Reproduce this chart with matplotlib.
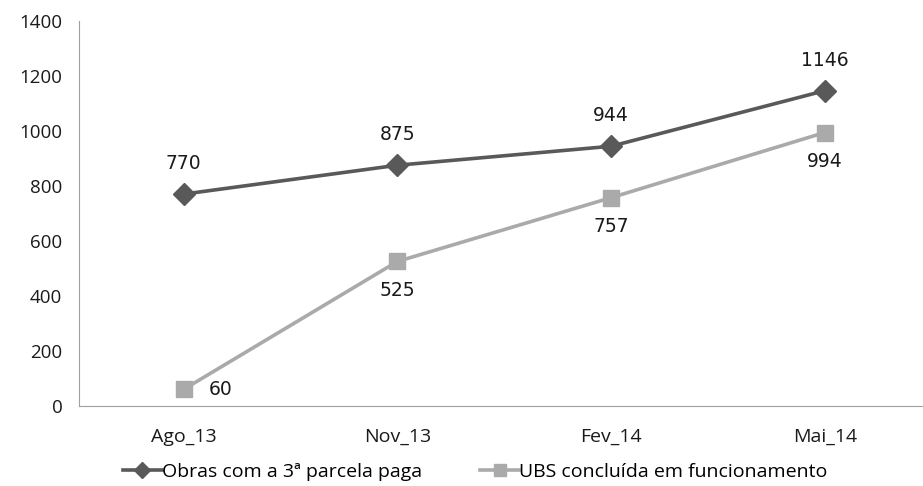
import matplotlib.pyplot as plt

# quarters and series values
periods = ["Ago_13", "Nov_13", "Fev_14", "Mai_14"]
obras = [770, 875, 944, 1146]
ubs = [60, 525, 757, 994]
yticks = [0, 200, 400, 600, 800, 1000, 1200, 1400]

dark = "#595959"
light = "#aaaaaa"

fig = plt.figure(figsize=(9.23, 4.86), dpi=100)
ax = fig.add_axes([0.0856, 0.165, 0.9144, 0.792])

x = range(len(periods))
ax.plot(x, obras, color=dark, lw=2.6, marker="D", ms=11, label="Obras com a 3ª parcela paga")
ax.plot(x, ubs, color=light, lw=2.6, marker="s", ms=12, label="UBS concluída em funcionamento")

# value labels: first series above, second below (first point to the right)
for i, v in enumerate(obras):
    ax.annotate(str(v), (i, v), xytext=(0, 15), textcoords="offset points",
                ha="center", va="bottom", fontsize=13.5, color="#1a1a1a")
for i, v in enumerate(ubs):
    if i == 0:
        ax.annotate(str(v), (i, v), xytext=(18, 0), textcoords="offset points",
                    ha="left", va="center", fontsize=13.5, color="#1a1a1a")
    else:
        ax.annotate(str(v), (i, v), xytext=(0, -14), textcoords="offset points",
                    ha="center", va="top", fontsize=13.5, color="#1a1a1a")

ax.set_xlim(-0.49, 3.46)
ax.set_ylim(0, 1400)
ax.set_xticks(list(x))
ax.set_xticklabels(periods, family="Open Sans", fontsize=14)
ax.set_yticks(yticks)
ax.set_yticklabels([str(t) for t in yticks], family="Open Sans", fontsize=13.5)
ax.tick_params(length=0, pad=12, colors="#1a1a1a")
ax.tick_params(axis="x", pad=16)

for s in ["top", "right"]:
    ax.spines[s].set_visible(False)
ax.spines["left"].set_color("#a0a0a0")
ax.spines["bottom"].set_color("#a0a0a0")

fig.legend(loc="lower center", bbox_to_anchor=(0.515, -0.025), ncol=2, frameon=False,
           prop={"family": "Open Sans", "size": 14}, handlelength=2.0, markerscale=0.7,
           handletextpad=0.0, columnspacing=3.0)

fig.savefig("out.png", dpi=100)
